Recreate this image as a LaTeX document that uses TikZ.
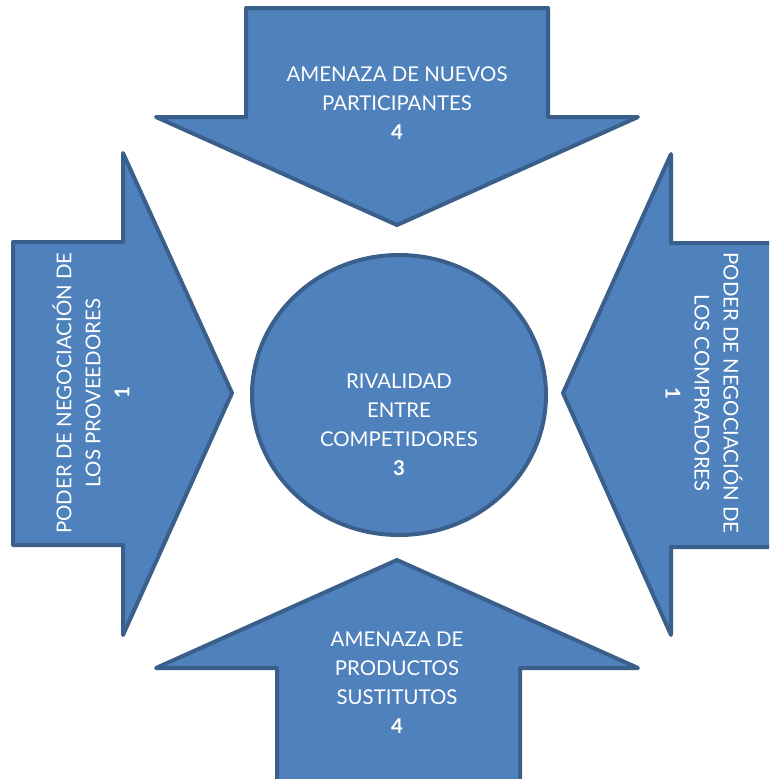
\documentclass[tikz,border=0pt]{standalone}
\usepackage{fontspec}
\setmainfont{Lato}
\usepackage{tikz}
\usetikzlibrary{positioning}

\definecolor{forcefill}{HTML}{4F81BD}
\definecolor{forceline}{HTML}{3A5F8B}

\begin{document}
\begin{tikzpicture}[x=0.75pt, y=-0.75pt,
    force/.style={fill=forcefill, draw=forceline, line width=3pt, line join=round},
    label/.style={text=white, align=center, font=\fontsize{15.3}{21.75}\selectfont}]
    \useasboundingbox (0,0) rectangle (769,779);
    \clip (0,0) rectangle (769,779);

    % Top arrow
    \draw[force] (246,8) -- (548,8) -- (548,117) -- (638,117) -- (397,225)
        -- (156,117) -- (246,117) -- cycle;
    \node[label] (nuevos) at (397,103) {AMENAZA DE NUEVOS\\PARTICIPANTES\\\textbf{4}};

    % Left arrow
    \draw[force] (13,242) -- (123,242) -- (123,153) -- (232,393) -- (123,635)
        -- (123,545) -- (13,545) -- cycle;
    \node[label, rotate=90] (proveedores) at (91,393) {PODER DE NEGOCIACIÓN DE\\LOS PROVEEDORES\\\textbf{1}};

    % Right arrow
    \draw[force] (790,243) -- (671,243) -- (671,154) -- (563,393) -- (671,635)
        -- (671,547) -- (790,547);
    \node[label, rotate=-90] (compradores) at (704,393) {PODER DE NEGOCIACIÓN DE\\LOS COMPRADORES\\\textbf{1}};

    % Bottom arrow
    \draw[force] (277,795) -- (277,668) -- (156,668) -- (397,560) -- (638,668)
        -- (520,668) -- (520,795);
    \node[label] (sustitutos) at (397,683) {AMENAZA DE\\PRODUCTOS\\SUSTITUTOS\\\textbf{4}};

    % Centre
    \draw[force] (399,395) ellipse [x radius=147, y radius=140];
    \node[label] (rivalidad) at (399,425) {RIVALIDAD\\ENTRE\\COMPETIDORES\\\textbf{3}};
\end{tikzpicture}
\end{document}
